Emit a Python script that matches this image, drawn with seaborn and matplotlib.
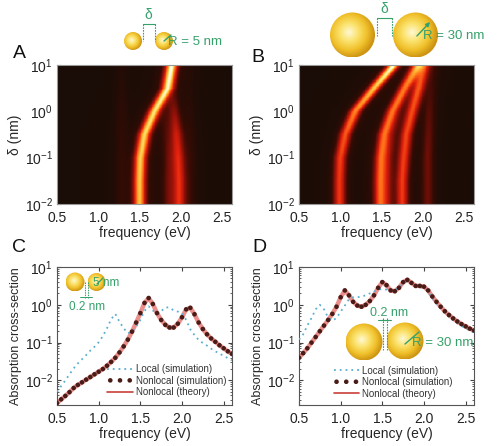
import numpy as np
import matplotlib
matplotlib.use("Agg")
import matplotlib.pyplot as plt
import seaborn as sns
from matplotlib.colors import LinearSegmentedColormap
from matplotlib.patches import Circle
from matplotlib.ticker import LogLocator, NullFormatter

sns.set_style("ticks")
plt.rcParams['font.family'] = ['Liberation Sans', 'DejaVu Sans']
plt.rcParams['mathtext.fontset'] = 'custom'
plt.rcParams['mathtext.rm'] = 'Liberation Sans'
plt.rcParams['mathtext.it'] = 'Liberation Sans:italic'

# ---- spectra (panels C, D) ----
freq = [0.50, 0.55, 0.60, 0.65, 0.70, 0.75, 0.80, 0.85, 0.90, 0.95,
        1.00, 1.05, 1.10, 1.15, 1.20, 1.25, 1.30, 1.35, 1.40, 1.45,
        1.50, 1.55, 1.60, 1.65, 1.70, 1.75, 1.80, 1.85, 1.90, 1.95,
        2.00, 2.05, 2.10, 2.15, 2.20, 2.25, 2.30, 2.35, 2.40, 2.45,
        2.50, 2.55, 2.60]

c_nonlocal = [0.00251, 0.00316, 0.00389, 0.0049, 0.0063, 0.0076, 0.0089, 0.0105, 0.0123, 0.0145,
              0.0170, 0.0200, 0.0245, 0.0309, 0.0398, 0.0550, 0.0794, 0.120, 0.195, 0.339,
              0.603, 1.12, 1.51, 1.05, 0.603, 0.398, 0.295, 0.251, 0.251, 0.316,
              0.468, 0.759, 0.832, 0.562, 0.339, 0.229, 0.166, 0.129, 0.105, 0.0851,
              0.0708, 0.0589, 0.0501]
c_local = [0.0050, 0.0071, 0.0100, 0.0145, 0.0209, 0.0282, 0.0363, 0.0468, 0.0617, 0.0776,
           0.102, 0.148, 0.240, 0.417, 0.575, 0.355, 0.240, 0.178, 0.191, 0.263,
           0.398, 0.692, 0.912, 0.708, 0.575, 0.676, 0.851, 0.851, 0.708, 0.661,
           0.603, 0.398, 0.224, 0.158, 0.117, 0.0977, 0.0832, 0.0692, 0.0589, 0.0513,
           0.0447, 0.0389, 0.0339]
d_nonlocal = [0.0398, 0.0525, 0.0708, 0.100, 0.141, 0.200, 0.282, 0.398, 0.575, 0.891,
              1.58, 2.40, 1.78, 1.20, 0.955, 0.891, 1.00, 1.26, 1.78, 2.82,
              3.98, 3.31, 2.40, 2.29, 2.82, 3.98, 4.57, 3.80, 3.16, 3.16,
              3.02, 2.40, 1.66, 1.20, 0.891, 0.676, 0.537, 0.437, 0.363, 0.309,
              0.269, 0.234, 0.209]
d_local = [0.120, 0.166, 0.282, 0.447, 0.759, 1.00, 0.759, 0.457, 0.380, 0.447,
           0.661, 0.955, 1.41, 1.58, 1.58, 1.66, 1.78, 2.00, 2.24, 2.51,
           2.63, 2.51, 2.34, 2.40, 2.82, 3.72, 4.27, 3.63, 3.02, 2.95,
           2.75, 2.19, 1.51, 1.07, 0.794, 0.603, 0.479, 0.389, 0.324, 0.275,
           0.240, 0.209, 0.186]

# ---- resonance tracks for the maps (panels A, B): log10(delta) -> frequency, brightness ----
track_logd = [-2.0, -1.5, -1.0, -0.5, 0.0, 0.5, 1.0]

a_tracks = [
    ([1.50, 1.50, 1.51, 1.56, 1.68, 1.84, 1.89], [0.84, 0.85, 0.87, 0.89, 0.91, 0.95, 1.00]),
    ([1.98, 1.98, 1.97, 1.95, 1.92, 1.90, 1.89], [0.50, 0.50, 0.48, 0.42, 0.26, 0.05, 0.00]),
    ([1.86, 1.86, 1.86, 1.84, 1.80, 1.85, 1.89], [0.20, 0.20, 0.18, 0.12, 0.05, 0.00, 0.00]),
    ([1.28, 1.28, 1.28, 1.28, 1.28, 1.28, 1.28], [0.07, 0.07, 0.07, 0.07, 0.07, 0.05, 0.04]),
    ([2.10, 2.10, 2.10, 2.10, 2.10, 2.10, 2.10], [0.08, 0.08, 0.08, 0.07, 0.05, 0.03, 0.02]),
]
b_tracks = [
    ([0.99, 0.99, 1.00, 1.06, 1.18, 1.41, 1.65], [0.55, 0.55, 0.57, 0.62, 0.72, 0.85, 1.00]),
    ([1.48, 1.48, 1.49, 1.53, 1.63, 1.78, 1.94], [0.60, 0.61, 0.62, 0.64, 0.66, 0.68, 0.72]),
    ([1.75, 1.75, 1.77, 1.80, 1.87, 1.95, 2.02], [0.53, 0.54, 0.55, 0.56, 0.58, 0.60, 0.52]),
    ([2.06, 2.06, 2.06, 2.07, 2.08, 2.10, 2.12], [0.22, 0.22, 0.22, 0.20, 0.16, 0.10, 0.06]),
    ([1.57, 1.57, 1.58, 1.62, 1.72, 1.85, 1.95], [0.26, 0.26, 0.24, 0.17, 0.08, 0.00, 0.00]),
]

xticks = [0.5, 1.0, 1.5, 2.0, 2.5]
xtick_labels = ['0.5', '1.0', '1.5', '2.0', '2.5']

hot = LinearSegmentedColormap.from_list(
    'map', [(0, '#1a0c06'), (0.12, '#360b04'), (0.3, '#8e1008'), (0.5, '#e0200c'),
            (0.68, '#ff6a18'), (0.82, '#ffb030'), (0.92, '#ffe470'), (1.0, '#fffbe8')])
gold = LinearSegmentedColormap.from_list(
    'gold', [(0, '#fff8d6'), (0.35, '#fbe36e'), (0.7, '#f0c02a'), (1.0, '#cc9212')])
green = '#35a06a'

fig = plt.figure(figsize=(5.0, 4.46), dpi=100)
W, H = 500, 446


def box(l, t, r, b):
    return [l / W, 1 - b / H, (r - l) / W, (b - t) / H]


def style_axis(ax, spine_col):
    ax.set_yscale('log')
    ax.yaxis.set_major_locator(LogLocator(base=10, numticks=5))
    ax.yaxis.set_minor_locator(LogLocator(base=10, subs=np.arange(2, 10), numticks=10))
    ax.yaxis.set_minor_formatter(NullFormatter())
    ax.set_xticks(xticks)
    ax.set_xticklabels(xtick_labels)
    ax.tick_params(which='both', direction='in', labelcolor='#222', labelsize=10, length=3)
    ax.tick_params(axis='x', pad=5)
    ax.tick_params(axis='y', pad=3)
    ax.tick_params(which='minor', length=1.5)
    for s in ax.spines.values():
        s.set_color(spine_col)
        s.set_linewidth(0.8)
    ax.set_xlabel('frequency (eV)', fontsize=10, labelpad=1)


def render_map(ax, tracks, sig, g):
    fg = np.linspace(0.5, 2.62, 400)
    lg = np.linspace(-2, 1, 240)
    F, _ = np.meshgrid(fg, lg)
    field = np.zeros_like(F)
    for fk, ak in tracks:
        fc = np.interp(lg, track_logd, fk)[:, None]
        amp = np.interp(lg, track_logd, ak)[:, None]
        dx = F - fc
        # gaussian core with a soft lorentzian glow
        field += amp * (0.78 * np.exp(-0.5 * (dx / sig) ** 2) + 0.22 * g ** 2 / (dx ** 2 + g ** 2))
    ax.pcolormesh(fg, 10 ** lg, np.clip(field, 0, 1), cmap=hot, vmin=0, vmax=1,
                  shading='auto', rasterized=True)
    style_axis(ax, '#999')
    ax.tick_params(which='both', colors='#777', labelcolor='#222')
    ax.set_ylim(1e-2, 1e1)
    ax.set_xlim(0.5, 2.62)
    ax.set_ylabel('δ (nm)', fontsize=10, labelpad=2)


def render_spectra(ax, local, nonlocal_, leg_anchor):
    sns.lineplot(x=freq, y=nonlocal_, ax=ax, color='#e46a66', linewidth=3.2,
                 alpha=0.75, label='Nonlocal (theory)', zorder=2)
    sns.lineplot(x=freq, y=local, ax=ax, color='#5aaed0', linewidth=1.3,
                 linestyle=(0, (1, 2.2)), label='Local (simulation)', zorder=3)
    sns.scatterplot(x=freq, y=nonlocal_, ax=ax, color='#4a1c18', s=11,
                    edgecolor='none', label='Nonlocal (simulation)', zorder=4)
    style_axis(ax, '#555')
    ax.tick_params(which='both', top=True, right=True, colors='#444', labelcolor='#222')
    ax.set_ylim(10 ** -2.65, 10)
    ax.set_xlim(0.5, 2.6)
    ax.set_ylabel('Absorption cross-section', fontsize=9, labelpad=2)
    h, l = ax.get_legend_handles_labels()
    order = [l.index('Local (simulation)'), l.index('Nonlocal (simulation)'),
             l.index('Nonlocal (theory)')]
    leg = ax.legend([h[i] for i in order], [l[i] for i in order], loc='upper left',
                    bbox_to_anchor=leg_anchor, frameon=False, fontsize=7,
                    handlelength=2.6, labelspacing=0.15, borderpad=0,
                    handletextpad=0.3, scatterpoints=3, scatteryoffsets=[0.5])
    for t in leg.get_texts():
        t.set_color('#333')
    leg.legend_handles[2].set_color('#c8403a')
    leg.legend_handles[2].set_linewidth(1.2)
    leg.legend_handles[2].set_alpha(1)


ax_a = fig.add_axes(box(57, 65, 232, 204))
ax_b = fig.add_axes(box(299, 65, 474, 204))
ax_c = fig.add_axes(box(57, 267, 232, 405))
ax_d = fig.add_axes(box(299, 267, 474, 405))

render_map(ax_a, a_tracks, 0.05, 0.09)
render_map(ax_b, b_tracks, 0.05, 0.08)
render_spectra(ax_c, c_local, c_nonlocal, (0.26, 0.33))
render_spectra(ax_d, d_local, d_nonlocal, (0.17, 0.32))

# ---- overlay: panel letters and sphere sketches ----
ov = fig.add_axes([0, 0, 1, 1], zorder=10)
ov.set_xlim(0, W)
ov.set_ylim(H, 0)
ov.axis('off')


def sphere(cx, cy, r):
    n = 90
    u, v = np.meshgrid(np.linspace(-1, 1, n), np.linspace(-1, 1, n))
    t = np.clip(np.sqrt((u + 0.15) ** 2 + (v + 0.1) ** 2) / 1.15, 0, 1)
    im = ov.imshow(t, cmap=gold, vmin=0, vmax=1, extent=(cx - r, cx + r, cy + r, cy - r),
                   aspect='auto', interpolation='bilinear', zorder=5)
    c = Circle((cx, cy), r, transform=ov.transData, facecolor='none', edgecolor='none')
    ov.add_patch(c)
    im.set_clip_path(c)


for lab, x, y in [('A', 19, 54), ('B', 258, 57), ('C', 19, 248), ('D', 259, 248)]:
    ov.text(x, y, lab, fontsize=14, ha='center', va='center', color='#111')

# A header
sphere(133, 41, 9)
sphere(164, 41, 9)
for x in (142.5, 154.5):
    ov.plot([x, x], [24, 41], color=green, lw=0.8, ls=(0, (1.5, 1)), zorder=6)
ov.plot([142.5, 154.5], [24, 24], color=green, lw=0.8, zorder=6)
ov.text(148.5, 15, 'δ', fontsize=10, color=green, ha='center', va='center')
ov.plot([164, 171], [41, 35], color=green, lw=1, zorder=6)
ov.text(168, 42, 'R = 5 nm', fontsize=9.5, color=green, ha='left', va='center', zorder=7)

# B header
sphere(352.5, 35, 22.5)
sphere(415.5, 35, 22.5)
for x in (376.5, 392):
    ov.plot([x, x], [18, 36], color=green, lw=0.8, ls=(0, (1.5, 1)), zorder=6)
ov.plot([376.5, 392], [18, 18], color=green, lw=0.8, zorder=6)
ov.text(384, 9, 'δ', fontsize=10, color=green, ha='center', va='center')
ov.annotate('', xy=(432, 20), xytext=(415, 38),
            arrowprops=dict(arrowstyle='-|>', color=green, lw=1, mutation_scale=6), zorder=7)
ov.text(423, 36, 'R = 30 nm', fontsize=9.5, color=green, ha='left', va='center', zorder=7)

# C inset
sphere(75, 282, 9.5)
sphere(96.5, 282, 9)
for x in (84.5, 87.5):
    ov.plot([x, x], [282, 298], color=green, lw=0.7, ls=(0, (1.5, 1)), zorder=6)
ov.plot([80, 92], [297, 297], color=green, lw=0.7, zorder=6)
ov.plot([97, 103], [284, 278], color=green, lw=0.9, zorder=6)
ov.text(93, 283, '5 nm', fontsize=8.5, color=green, ha='left', va='center', zorder=7)
ov.text(87, 307, '0.2 nm', fontsize=8.5, color=green, ha='center', va='center', zorder=7)

# D inset
sphere(364, 342, 18.5)
sphere(405, 341, 18.5)
for x in (382.5, 386.5):
    ov.plot([x, x], [318, 350], color=green, lw=0.8, ls=(0, (1.5, 1)), zorder=6)
ov.plot([378, 391], [320, 320], color=green, lw=0.8, zorder=6)
ov.plot([405, 419], [344, 332], color=green, lw=1, zorder=6)
ov.text(389, 313, '0.2 nm', fontsize=9, color=green, ha='center', va='center', zorder=7)
ov.text(412, 343, 'R = 30 nm', fontsize=9.5, color=green, ha='left', va='center', zorder=7)

fig.savefig('out.png', dpi=100)
